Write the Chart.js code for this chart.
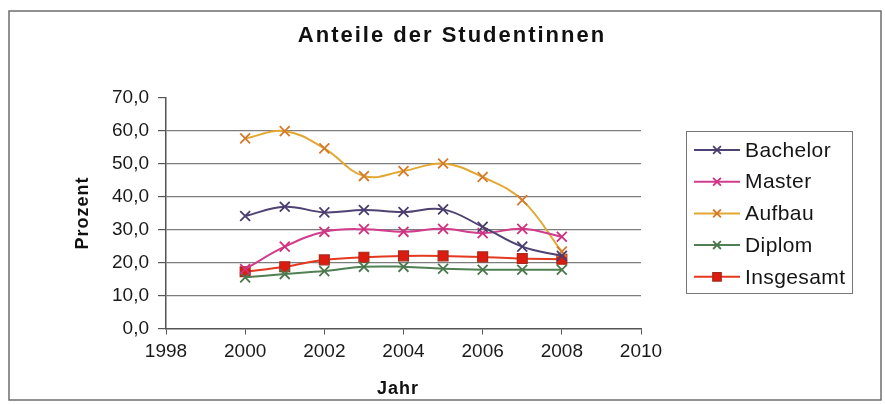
<!DOCTYPE html>
<html>
<head>
<meta charset="utf-8">
<script src="https://cdn.jsdelivr.net/npm/chart.js@4.4.1/dist/chart.umd.min.js"></script>
<style>
  html, body { margin: 0; padding: 0; background: #fff; }
  #chart { display: block; }
</style>
</head>
<body>
<canvas id="chart" width="885" height="405"></canvas>
<script>
// Daten
const jahre = [2000, 2001, 2002, 2003, 2004, 2005, 2006, 2007, 2008];
const bachelor = [34.1, 36.9, 35.2, 35.9, 35.3, 36.1, 30.8, 24.8, 22.0];
const master = [18.0, 24.8, 29.3, 30.1, 29.3, 30.2, 28.9, 30.2, 27.8];
const aufbau = [57.6, 59.8, 54.6, 46.2, 47.7, 50.0, 45.9, 38.9, 23.3];
const diplom = [15.5, 16.5, 17.4, 18.7, 18.7, 18.1, 17.8, 17.8, 17.8];
const insgesamt = [17.2, 18.7, 20.8, 21.6, 22.0, 22.0, 21.7, 21.2, 21.0];

const xTicks = [1998, 2000, 2002, 2004, 2006, 2008, 2010];
const yTicks = [0, 10, 20, 30, 40, 50, 60, 70];

const titel = "Anteile der Studentinnen";
const xTitel = "Jahr";
const yTitel = "Prozent";

function punkte(werte) {
  return jahre.map((j, i) => ({ x: j, y: werte[i] }));
}

function serie(label, werte, linie, marker, style, fill) {
  return {
    label: label,
    data: punkte(werte),
    borderColor: linie,
    borderWidth: 2,
    pointStyle: style,
    pointRadius: 7,
    pointBorderColor: marker,
    pointBackgroundColor: fill || marker,
    pointBorderWidth: style === 'rect' ? 1.2 : 1.8,
    tension: 0.4
  };
}

const datasets = [
  serie("Bachelor", bachelor, "#4e4272", "#4a3e6e", "crossRot"),
  serie("Master", master, "#d23c8c", "#d0307f", "crossRot"),
  serie("Aufbau", aufbau, "#e2a832", "#d47a2c", "crossRot"),
  serie("Diplom", diplom, "#4f7f52", "#4a784c", "crossRot"),
  serie("Insgesamt", insgesamt, "#e4381f", "#a8281a", "rect", "#dd1c10")
];

// Rahmen, Titel, Achsentitel und Legende
const extras = {
  id: 'extras',
  beforeDraw(chart) {
    const ctx = chart.ctx;
    ctx.save();
    ctx.fillStyle = '#fff';
    ctx.fillRect(0, 0, chart.width, chart.height);
    ctx.restore();
  },
  afterDraw(chart) {
    const ctx = chart.ctx;
    ctx.save();
    // Rahmen
    ctx.strokeStyle = '#6e6e6e';
    ctx.lineWidth = 1.5;
    ctx.strokeRect(9, 11, 872, 389);

    ctx.fillStyle = '#111';
    ctx.textAlign = 'center';
    ctx.textBaseline = 'middle';
    ctx.font = 'bold 22px "Liberation Sans", Arial, sans-serif';
    ctx.letterSpacing = '2px';
    ctx.fillText(titel, 452, 36);

    ctx.font = 'bold 18px "Liberation Sans", Arial, sans-serif';
    ctx.letterSpacing = '1px';
    ctx.fillText(xTitel, 398, 389);
    ctx.save();
    ctx.translate(83, 213);
    ctx.rotate(-Math.PI / 2);
    ctx.fillText(yTitel, 0, 0);
    ctx.restore();

    // Legende
    const lx = 686, ly = 131, lw = 166, lh = 162;
    ctx.strokeStyle = '#777';
    ctx.lineWidth = 1;
    ctx.strokeRect(lx + 0.5, ly + 0.5, lw, lh);
    ctx.font = '21px "Liberation Sans", Arial, sans-serif';
    ctx.letterSpacing = '0.4px';
    ctx.textAlign = 'left';
    chart.data.datasets.forEach((ds, i) => {
      const y = 150 + i * 31.7;
      ctx.strokeStyle = ds.borderColor;
      ctx.lineWidth = 2;
      ctx.beginPath();
      ctx.moveTo(694, y);
      ctx.lineTo(740, y);
      ctx.stroke();
      ctx.strokeStyle = ds.pointBorderColor;
      ctx.fillStyle = ds.pointBackgroundColor;
      ctx.lineWidth = ds.pointBorderWidth;
      Chart.helpers.drawPoint(ctx, { pointStyle: ds.pointStyle, radius: ds.pointStyle === 'rect' ? 6 : 5.5, rotation: 0, borderWidth: ds.pointBorderWidth }, 717, y);
      ctx.fillStyle = '#151515';
      ctx.fillText(ds.label, 745, y + 1);
    });
    ctx.restore();
  }
};

const tickFont = { family: '"Liberation Sans", Arial, sans-serif', size: 19 };

new Chart(document.getElementById('chart'), {
  type: 'line',
  data: { datasets: datasets },
  options: {
    responsive: false,
    devicePixelRatio: 1,
    animation: false,
    layout: { padding: { left: 0, top: 97.5, right: 244, bottom: 36.5 } },
    plugins: {
      legend: { display: false },
      title: { display: false },
      tooltip: { enabled: false }
    },
    scales: {
      x: {
        type: 'linear',
        min: xTicks[0],
        max: xTicks[xTicks.length - 1],
        afterBuildTicks: s => { s.ticks = xTicks.map(v => ({ value: v })); },
        afterFit: s => { s.height = 40; },
        ticks: {
          font: tickFont,
          color: '#1a1a1a',
          padding: 6,
          maxRotation: 0,
          callback: v => String(v)
        },
        grid: {
          drawOnChartArea: false,
          drawTicks: true,
          tickLength: 6,
          tickColor: '#555'
        },
        border: { color: '#555', width: 1.5 }
      },
      y: {
        min: yTicks[0],
        max: yTicks[yTicks.length - 1],
        afterBuildTicks: s => { s.ticks = yTicks.map(v => ({ value: v })); },
        afterFit: s => { s.width = 166; },
        ticks: {
          font: tickFont,
          color: '#1a1a1a',
          padding: 9,
          callback: v => v.toFixed(1).replace('.', ',')
        },
        grid: {
          color: c => (c.tick && (c.tick.value === 70 || c.tick.value === 0)) ? 'rgba(0,0,0,0)' : '#7d7d7d',
          lineWidth: 1.2,
          tickColor: '#555',
          tickLength: 8
        },
        border: { color: '#555', width: 1.5 }
      }
    }
  },
  plugins: [extras]
});
</script>
</body>
</html>
